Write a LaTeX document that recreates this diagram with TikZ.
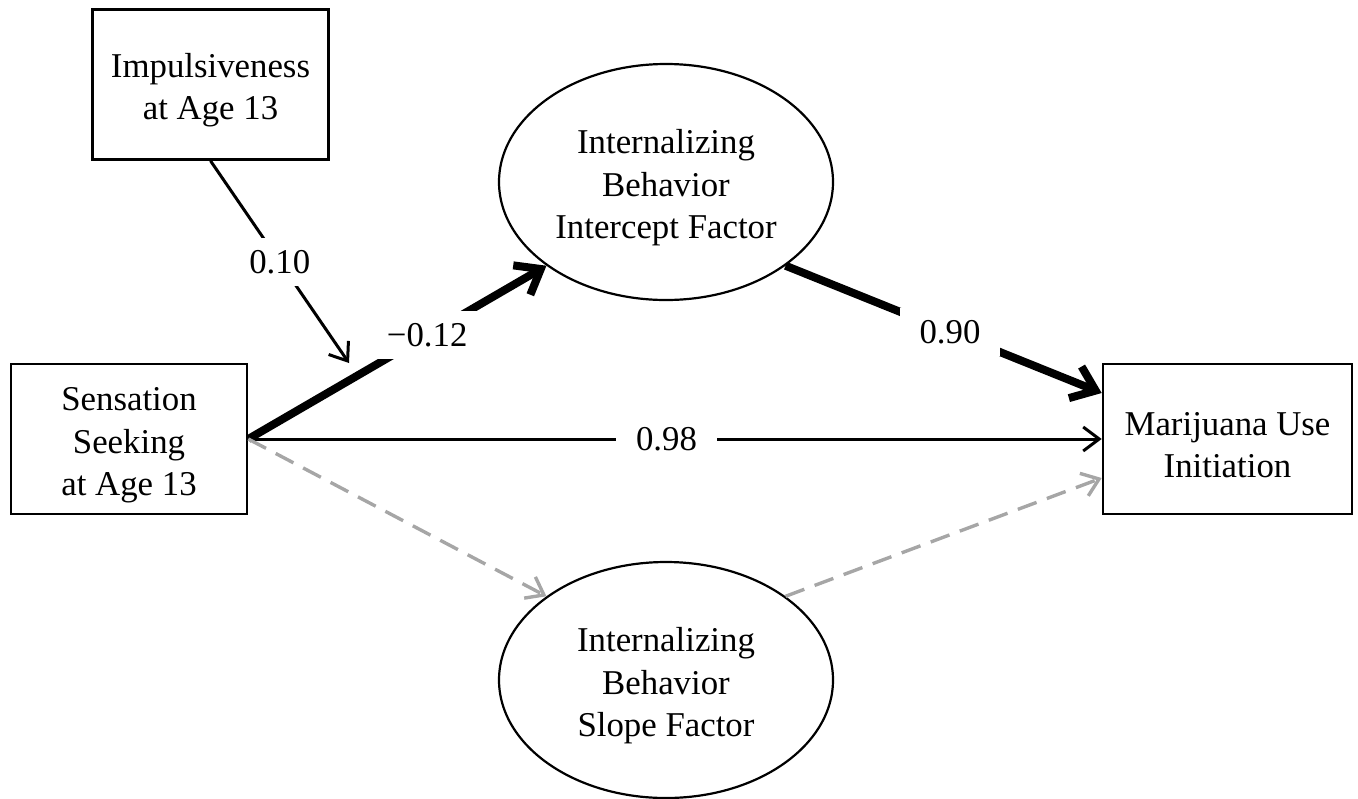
\documentclass[tikz,border=0pt]{standalone}
\usepackage{fontspec}
\setmainfont{Liberation Serif}
\usetikzlibrary{arrows.meta,shapes.geometric}
\definecolor{dashgray}{RGB}{166,166,166}
\newcommand{\lowerfix}{\rule{0pt}{17.9pt}}
\begin{document}
\begin{tikzpicture}[x=0.5pt,y=-0.5pt,
  font=\fontsize{17.4}{21.2}\selectfont,
  box/.style={draw,line width=1.3pt,minimum width=118pt,minimum height=75pt,align=center,inner sep=0pt},
  latent/.style={ellipse,draw,line width=1.1pt,minimum width=167pt,minimum height=118pt,align=center,inner sep=0pt},
  pathline/.style={line width=1.5pt,-{Straight Barb[length=8pt,width=12pt]}},
  strong/.style={line width=4pt,-{Straight Barb[length=11pt,width=17pt]}},
  nsline/.style={line width=1.7pt,draw=dashgray,dash pattern=on 10pt off 5.5pt,-{Straight Barb[length=8pt,width=12pt]}},
  coef/.style={fill=white,inner xsep=10pt,inner ysep=6pt}
]
\useasboundingbox (0,0) rectangle (1358,798);
\node[box] (imp) at (210.5,84.5) {\lowerfix Impulsiveness\\at Age 13};
\node[box] (ss) at (129,439) {\lowerfix Sensation\\Seeking\\at Age 13};
\node[box,minimum width=124.5pt] (mj) at (1227.5,439) {\lowerfix Marijuana Use\\Initiation};
\node[latent] (ie) at (666,182) {\lowerfix Internalizing\\Behavior\\Intercept Factor};
\node[latent] (sf) at (666,680) {\lowerfix Internalizing\\Behavior\\Slope Factor};
\coordinate (mod) at (349,363);
\draw[strong] (ss.east) -- node[coef,pos=0.60]{−0.12} (ie.215);
\draw[pathline] (imp.south) -- node[coef,pos=0.5]{0.10} (mod);
\draw[strong] (ie.325) -- node[coef,pos=0.52]{0.90} ([yshift=23pt]mj.west);
\draw[pathline] (ss.east) -- node[coef,pos=0.49]{0.98} (mj.west);
\draw[nsline] (ss.east) -- (sf.145);
\draw[nsline] (sf.35) -- ([yshift=-19.5pt]mj.west);
\end{tikzpicture}
\end{document}
